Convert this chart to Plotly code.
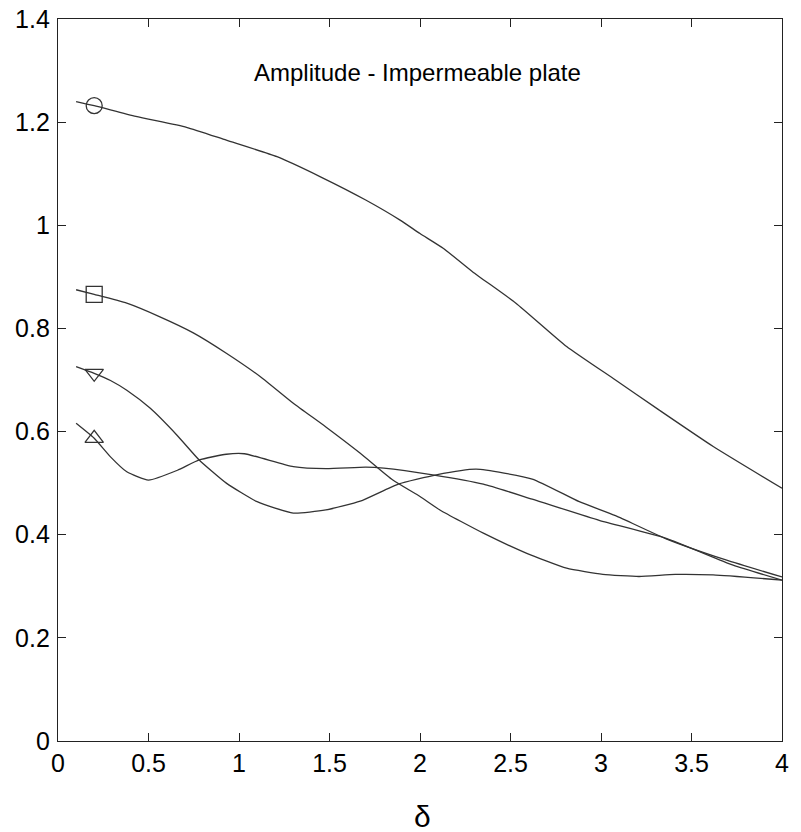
import plotly.graph_objects as go

# ---- data ----
circle_x = [0.1, 0.2, 0.43, 0.71, 0.93, 1.21, 1.45, 1.70, 1.89, 2.0, 2.13, 2.29, 2.53, 2.81, 3.08, 3.32, 3.62, 4.0]
circle_y = [1.240, 1.232, 1.211, 1.190, 1.165, 1.133, 1.094, 1.049, 1.010, 0.984, 0.955, 0.910, 0.849, 0.765, 0.700, 0.642, 0.571, 0.490]

square_x = [0.1, 0.2, 0.38, 0.56, 0.75, 0.93, 1.12, 1.30, 1.48, 1.67, 1.85, 2.0, 2.11, 2.35, 2.59, 2.81, 3.01, 3.21, 3.41, 3.62, 4.0]
square_y = [0.875, 0.866, 0.849, 0.823, 0.791, 0.752, 0.706, 0.655, 0.609, 0.558, 0.506, 0.474, 0.448, 0.403, 0.364, 0.335, 0.323, 0.319, 0.323, 0.322, 0.312]

dtri_x = [0.1, 0.2, 0.29, 0.38, 0.51, 0.66, 0.78, 0.93, 1.10, 1.30, 1.48, 1.67, 1.88, 2.09, 2.31, 2.62, 2.88, 3.08, 3.36, 3.69, 4.0]
dtri_y = [0.726, 0.713, 0.699, 0.680, 0.645, 0.592, 0.545, 0.500, 0.464, 0.442, 0.448, 0.465, 0.498, 0.516, 0.527, 0.508, 0.464, 0.437, 0.392, 0.351, 0.318]

utri_x = [0.1, 0.2, 0.29, 0.38, 0.50, 0.66, 0.78, 0.93, 1.03, 1.30, 1.48, 1.70, 1.80, 2.07, 2.35, 2.62, 2.99, 3.36, 3.73, 4.0]
utri_y = [0.616, 0.587, 0.551, 0.522, 0.506, 0.525, 0.545, 0.556, 0.557, 0.532, 0.528, 0.531, 0.529, 0.516, 0.498, 0.469, 0.428, 0.393, 0.341, 0.312]

series = [
    (circle_x, circle_y, "circle-open"),
    (square_x, square_y, "square-open"),
    (dtri_x, dtri_y, "triangle-down-open"),
    (utri_x, utri_y, "triangle-up-open"),
]

title_text = "Amplitude - Impermeable plate"
x_label = "δ"
x_ticks = [0, 0.5, 1, 1.5, 2, 2.5, 3, 3.5, 4]
y_ticks = [0, 0.2, 0.4, 0.6, 0.8, 1, 1.2, 1.4]

LINE = "#333333"
FONT = "Liberation Sans, Arial, sans-serif"

fig = go.Figure()
for xs, ys, sym in series:
    fig.add_trace(go.Scatter(x=xs, y=ys, mode="lines",
                             line=dict(color=LINE, width=1.3, shape="spline", smoothing=0.5),
                             showlegend=False, hoverinfo="skip"))
    fig.add_trace(go.Scatter(x=[xs[1]], y=[ys[1]], mode="markers",
                             marker=dict(symbol=sym, size=16, color=LINE,
                                         line=dict(color=LINE, width=1.3)),
                             showlegend=False, hoverinfo="skip"))

axis_common = dict(showline=True, linecolor="#222", linewidth=1.3, mirror="ticks",
                   ticks="inside", ticklen=8, tickwidth=1.2, tickcolor="#222",
                   showgrid=False, zeroline=False, automargin=False,
                   tickfont=dict(family=FONT, size=25, color="#000"))

fig.update_xaxes(range=[0, 4], tickvals=x_ticks, **axis_common)
fig.update_yaxes(range=[0, 1.4], tickvals=y_ticks, ticklabelstandoff=2, **axis_common)

fig.add_annotation(text=title_text, xref="paper", yref="y", x=0.497, y=1.297,
                   showarrow=False, font=dict(family=FONT, size=24, color="#000"),
                   xanchor="center", yanchor="middle")
fig.add_annotation(text=x_label, xref="paper", yref="paper", x=0.503, y=-0.105,
                   showarrow=False, font=dict(family=FONT, size=30, color="#000"),
                   xanchor="center", yanchor="middle")

fig.update_layout(width=801, height=832,
                  margin=dict(l=58, r=19, t=19, b=91),
                  plot_bgcolor="white", paper_bgcolor="white")

fig.write_html("out.html", config={"displayModeBar": False},
               post_script="document.body.style.margin='0';document.body.style.padding='0';")
